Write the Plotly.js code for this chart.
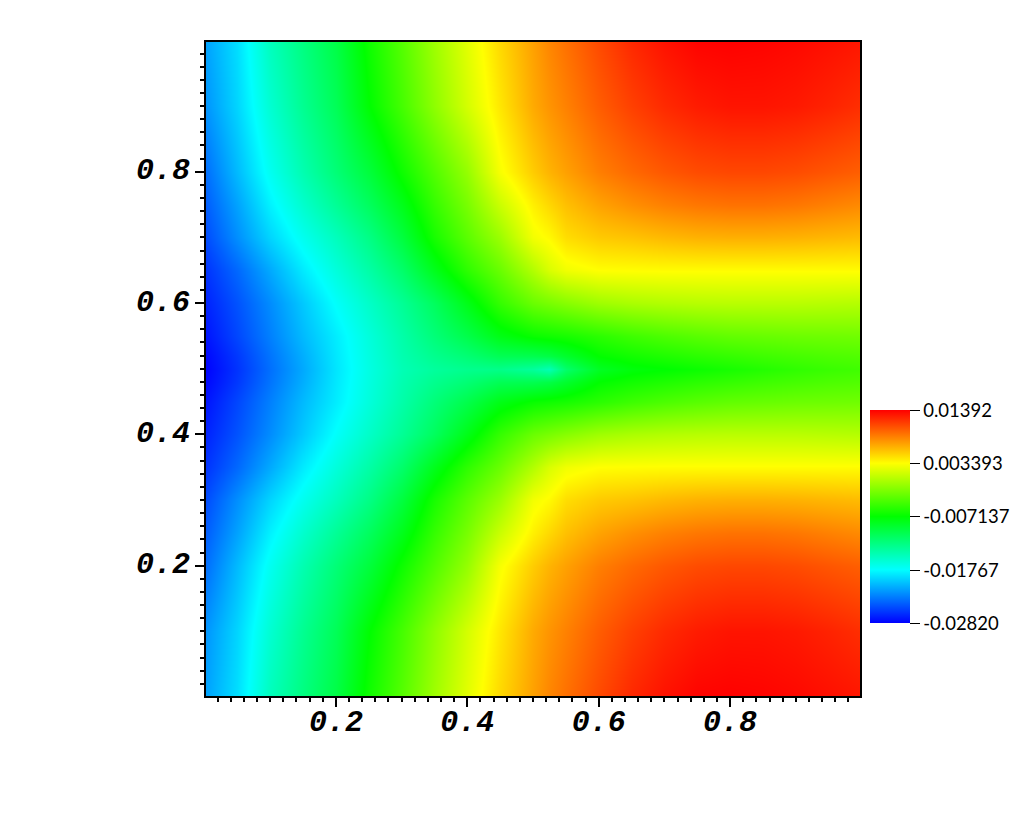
<!DOCTYPE html>
<html>
<head>
<meta charset="utf-8">
<script src="https://cdn.plot.ly/plotly-3.0.1.min.js"></script>
<style>html,body{margin:0;padding:0;background:#fff}</style>
</head>
<body>
<div id="chart" style="width:1024px;height:820px"></div>
<script>
// sample positions (finer round the tip at y=0.5)
const xValues = [0, .05, .1, .15, .2, .25, .3, .35, .4, .45, .5, .525, .55, .6, .65, .7, .75, .8, .85, .9, .95, 1];
const yUpper = [.5, .52, .55, .6, .65, .7, .75, .8, .9, 1];

// field values in thousandths, one row per yUpper entry
const zUpper = [
    [-28.2, -26.1, -23.6, -21.2, -18.7, -16.5, -14.6, -13.6, -13.0, -12.8, -13.6, -14.6, -11.5, -8.6, -7.6, -7.2, -6.7, -6.2, -5.7, -5.2, -4.8, -4.5],
    [-28.0, -25.9, -23.4, -21.0, -18.6, -16.4, -14.4, -13.0, -11.9, -10.6, -10.4, -10.0, -9.0, -7.1, -6.4, -5.9, -5.4, -5.0, -4.6, -4.3, -4.0, -3.8],
    [-27.5, -25.3, -22.9, -20.5, -18.4, -16.2, -14.1, -12.1, -10.2, -8.0, -6.8, -6.5, -6.2, -5.4, -4.6, -4.0, -3.5, -3.1, -2.9, -2.7, -2.6, -2.5],
    [-26.9, -24.8, -22.4, -19.9, -17.5, -15.4, -13.3, -11.0, -8.1, -5.0, -2.8, -2.2, -1.6, -.6, -.1, .2, .4, .5, .5, .5, .4, .3],
    [-26.2, -23.9, -21.2, -18.5, -16.2, -14.0, -11.5, -8.3, -5.3, -2.8, .2, 1.8, 2.8, 3.4, 3.45, 3.5, 3.5, 3.5, 3.5, 3.5, 3.5, 3.5],
    [-25.2, -22.3, -19.4, -17.0, -14.9, -12.6, -9.7, -6.2, -3.4, -.7, 2.9, 3.6, 4.8, 5.6, 5.9, 6.3, 6.6, 6.7, 6.7, 6.6, 6.4, 6.2],
    [-24.5, -21.5, -18.2, -15.6, -13.3, -11.0, -8.2, -5.0, -2.2, 1.2, 4.0, 5.0, 6.0, 7.2, 8.0, 8.6, 9.0, 9.2, 9.2, 9.0, 8.6, 8.2],
    [-23.8, -20.5, -17.1, -14.4, -12.0, -9.6, -6.6, -3.8, -1.0, 3.1, 5.5, 6.5, 7.3, 8.7, 9.6, 10.3, 10.8, 11.0, 11.0, 10.8, 10.4, 10.0],
    [-22.2, -19.4, -15.8, -13.1, -10.7, -7.2, -4.3, -1.3, 1.6, 4.4, 6.9, 7.8, 8.6, 10.1, 11.3, 12.2, 12.8, 13.1, 13.1, 12.9, 12.5, 12.0],
    [-21.6, -19.0, -14.9, -12.4, -10.0, -6.5, -3.6, -.6, 2.2, 5.0, 7.3, 8.4, 9.3, 10.9, 12.3, 13.2, 13.8, 13.9, 13.8, 13.6, 13.3, 13.0]
];

const colorStops = [[0, '#0000ff'], [.25, '#00ffff'], [.5, '#00ff00'], [.75, '#ffff00'], [1, '#ff0000']];
const barTicks = [0.01392, 0.003393, -0.007137, -0.01767, -0.0282];
const barLabels = ['0.01392', '0.003393', '-0.007137', '-0.01767', '-0.02820'];
const axisTicks = [.2, .4, .6, .8];
const axisLabels = ['0.2', '0.4', '0.6', '0.8'];

// the field is mirrored about y=0.5
const yValues = yUpper.slice(1).reverse().map(y => +(1 - y).toFixed(2)).concat(yUpper);
const zRows = zUpper.slice(1).reverse().concat(zUpper).map(row => row.map(v => v / 1000));

// minor ticks every 0.02, none on the corners
const minorTicks = [];
for (let i = 1; i < 50; i++) minorTicks.push(i * .02);

const tickFont = { family: 'Liberation Mono', size: 30, weight: 'bold', style: 'italic', color: '#000' };

function axisStyle(range) {
    return {
        range: range,
        tickmode: 'array',
        tickvals: axisTicks,
        ticktext: axisLabels,
        ticks: 'outside',
        ticklen: 9,
        tickwidth: 2,
        tickcolor: '#000',
        tickfont: tickFont,
        showgrid: false,
        zeroline: false,
        showline: true,
        mirror: true,
        linecolor: '#000',
        linewidth: 2,
        minor: { tickmode: 'array', tickvals: minorTicks, ticks: 'outside', ticklen: 4, tickwidth: 2, tickcolor: '#000', showgrid: false }
    };
}

Plotly.newPlot('chart', [{
    type: 'heatmap',
    x: xValues,
    y: yValues,
    z: zRows,
    zsmooth: 'best',
    zmin: -0.0282,
    zmax: 0.01392,
    colorscale: colorStops,
    colorbar: {
        xref: 'container', yref: 'container',
        x: 870 / 1024, xanchor: 'left',
        y: 38.4 / 820, yanchor: 'bottom',
        lenmode: 'pixels', len: 213,
        thicknessmode: 'pixels', thickness: 40,
        xpad: 0, ypad: 0,
        outlinewidth: 0,
        tickmode: 'array',
        tickvals: barTicks,
        ticktext: barLabels,
        ticks: 'outside',
        ticklen: 10,
        tickwidth: 1,
        tickcolor: '#000',
        tickfont: { family: 'Lato', size: 18.5, color: '#000' }
    }
}], {
    width: 1024,
    height: 820,
    margin: { l: 206, r: 164, t: 42, b: 124 },
    paper_bgcolor: '#fff',
    plot_bgcolor: '#fff',
    xaxis: Object.assign(axisStyle([.0023, .9977]), { ticklabelstandoff: -12 }),
    yaxis: Object.assign(axisStyle([.0015, .9976]), { ticklabelstandoff: -1, ticklabelshift: -3 })
}, { displayModeBar: false });
</script>
</body>
</html>
